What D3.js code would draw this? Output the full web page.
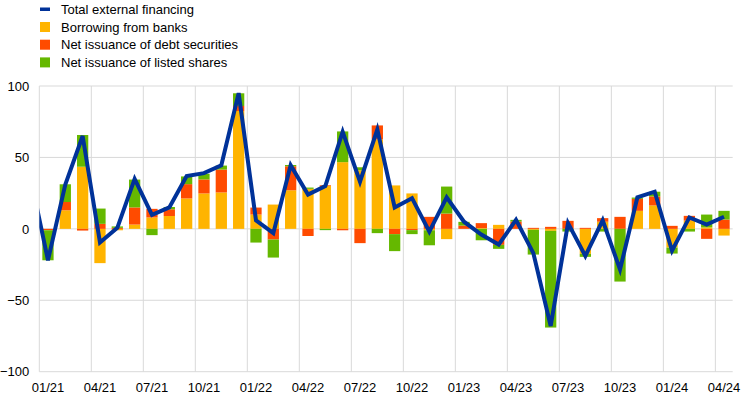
<!doctype html>
<html>
<head>
<meta charset="utf-8">
<title></title>
<style>
body{ margin:0; background:#fff; }
text{ font-family: Arial, "Liberation Sans", sans-serif; }
</style>
</head>
<body>
<svg></svg>
<script src="https://cdn.jsdelivr.net/npm/d3@7"></script>
<script>
var months = ['01/21','02/21','03/21','04/21','05/21','06/21','07/21','08/21','09/21','10/21','11/21','12/21',
              '01/22','02/22','03/22','04/22','05/22','06/22','07/22','08/22','09/22','10/22','11/22','12/22',
              '01/23','02/23','03/23','04/23','05/23','06/23','07/23','08/23','09/23','10/23','11/23','12/23',
              '01/24','02/24','03/24','04/24'];
var banks  = [0, 13, 43.5, -24, -1, 3, 8, 9, 21.3, 24.8, 25.5, 82.5,
              10, 17, 27, 28, 30, 46.7, 41, 62.6, 30.4, 24.8, -1, -7.2,
              0, 0.5, 2.8, 0, -0.7, -1.4, 0, -17.5, 5, 0, 12.6, 16.4,
              -13.1, 5.8, 1, -4.7];
var debt   = [-1, 5.8, -1.2, 3.5, 0.7, 12, 6, 4.7, 10, 9.8, 16, 3.5,
              4.9, -7.5, 16.8, -5, 0.5, -1, -10, 9.8, -3.7, -0.9, 8.4, 10.7,
              2.3, 3.5, -11.2, 5.1, 0.7, 1.4, 5.6, 0.7, 2.5, 8.4, 8.4, 6.3,
              2.1, 3.3, -7, 6.5];
var shares = [-21, 12.4, 22.2, 10.7, 1, 19.5, -4.4, 1.6, 5.4, 4, 2.8, 8.9,
              -9.6, -12.6, 0.9, 0.9, -0.9, 21.5, 2.1, -3, -11.9, -2.8, -10.5, 18.9,
              2.6, -8, -2.8, 1.2, -17.3, -67.7, -1.9, -2.1, -1.9, -36.9, 0.9, 3.3,
              -4.2, -1.9, 9, 6.1];
var total  = [-22, 31, 65, -9.5, 0.7, 35, 9.8, 15, 37, 39, 44.5, 95,
              6, -3, 44.5, 24, 30, 68, 33, 69.5, 15, 21.5, -2, 22,
              5, -4, -11, 6.3, -17, -68, 4, -19, 6, -28.5, 22, 26,
              -15.3, 8, 3, 8.5];
var totalPrev = 36; // 12/20, only its segment into the plot is visible
var yTicks = [-100, -50, 0, 50, 100];

var series = ['Borrowing from banks', 'Net issuance of debt securities', 'Net issuance of listed shares'];
var colors = ['#ffb400', '#ff4b00', '#65b800'];
var lineColor = '#003299';

var width = 745, height = 399;
var plotLeft = 39.3, plotRight = 732.7, plotTop = 86, plotBottom = 371.7;

var svg = d3.select('svg').attr('width', width).attr('height', height);

var x = d3.scaleBand().domain(months).range([plotLeft, plotRight]).paddingInner(0.35).paddingOuter(0.175);
var y = d3.scaleLinear().domain([-100, 100]).range([plotBottom, plotTop]);

// gridlines
svg.append('g').selectAll('line').data(yTicks).enter().append('line')
    .attr('x1', plotLeft).attr('x2', plotRight)
    .attr('y1', function(d){ return y(d); }).attr('y2', function(d){ return y(d); })
    .attr('stroke', '#d9d9d9').attr('stroke-width', 1);
var quarterStarts = months.filter(function(d, i){ return i % 3 === 0; });
svg.append('g').selectAll('line').data(quarterStarts).enter().append('line')
    .attr('x1', function(d){ return x(d) - x.step() * 0.175; })
    .attr('x2', function(d){ return x(d) - x.step() * 0.175; })
    .attr('y1', plotTop).attr('y2', plotBottom)
    .attr('stroke', '#d9d9d9').attr('stroke-width', 1);

// stacked bars
var rows = months.map(function(m, i){ return {m: m, b: banks[i], d: debt[i], s: shares[i]}; });
var stack = d3.stack().keys(['b', 'd', 's']).offset(d3.stackOffsetDiverging);
var layers = stack(rows);
svg.append('g').selectAll('g').data(layers).enter().append('g')
    .attr('fill', function(d, i){ return colors[i]; })
    .selectAll('rect').data(function(d){ return d; }).enter().append('rect')
    .attr('x', function(d){ return x(d.data.m); })
    .attr('width', x.bandwidth())
    .attr('y', function(d){ return y(Math.max(d[0], d[1])); })
    .attr('height', function(d){ return Math.abs(y(d[0]) - y(d[1])); });

// total line
svg.append('clipPath').attr('id', 'plot').append('rect')
    .attr('x', plotLeft).attr('y', 0).attr('width', plotRight - plotLeft).attr('height', height);
var linePts = [totalPrev].concat(total);
var line = d3.line()
    .x(function(d, i){ return x(months[0]) + x.bandwidth() / 2 + (i - 1) * x.step(); })
    .y(function(d){ return y(d); });
svg.append('path').datum(linePts)
    .attr('clip-path', 'url(#plot)')
    .attr('fill', 'none').attr('stroke', lineColor).attr('stroke-width', 4)
    .attr('d', line);

// axes
var yAxis = svg.append('g').attr('transform', 'translate(' + plotLeft + ',0)')
    .call(d3.axisLeft(y).tickValues(yTicks).tickSize(0).tickPadding(10));
yAxis.select('.domain').remove();
yAxis.selectAll('text').attr('font-size', 13).attr('fill', '#000').style('font-family', 'Arial, "Liberation Sans", sans-serif');

var xAxis = svg.append('g').attr('transform', 'translate(0,' + plotBottom + ')')
    .call(d3.axisBottom(x).tickValues(quarterStarts).tickSize(0).tickPadding(11));
xAxis.select('.domain').remove();
xAxis.selectAll('text').attr('font-size', 13).attr('fill', '#000').style('font-family', 'Arial, "Liberation Sans", sans-serif');

// legend
var legend = svg.append('g');
legend.append('rect').attr('x', 40).attr('y', 7.5).attr('width', 10).attr('height', 3.5).attr('fill', lineColor);
legend.append('text').attr('x', 61).attr('y', 9.3).attr('dy', '0.35em').attr('font-size', 13).text('Total external financing');
series.forEach(function(s, i){
    var cy = 27 + i * 17.7;
    legend.append('rect').attr('x', 40).attr('y', cy - 5).attr('width', 10).attr('height', 10).attr('fill', colors[i]);
    legend.append('text').attr('x', 61).attr('y', cy).attr('dy', '0.35em').attr('font-size', 13).text(s);
});
</script>
</body>
</html>
